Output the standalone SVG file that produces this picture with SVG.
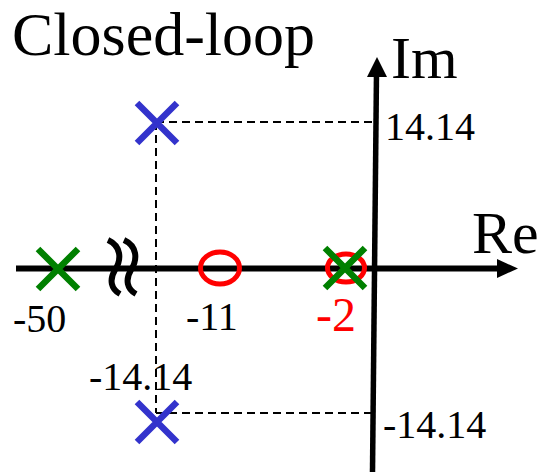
<svg xmlns="http://www.w3.org/2000/svg" width="539" height="476" viewBox="0 0 539 476">
<style>
.ax{stroke:#000;fill:none}
.dash{stroke:#000;stroke-width:2;stroke-dasharray:8 5;fill:none}
.zero{stroke:#ff0000;stroke-width:5;fill:none}
.xg{stroke:#008000;stroke-width:6.5;fill:none}
.xb{stroke:#3333cc;stroke-width:6.5;fill:none}
.sq{stroke:#000;stroke-width:6;fill:none}
</style>
<rect width="539" height="476" fill="#fff"/>
<text x="12" y="55" font-size="62" font-family="Liberation Serif" fill="#000">Closed-loop</text>
<g id="connectors">
<line class="dash" x1="156" y1="122" x2="373" y2="122"/>
<line class="dash" x1="156" y1="413" x2="373" y2="413"/>
<line class="dash" x1="156" y1="122" x2="156" y2="413"/>
</g>
<g id="real-axis">
<line class="ax" x1="16" y1="268.5" x2="500" y2="268.5" stroke-width="6"/>
<polygon points="497,259 518,268.5 497,278" fill="#000"/>
<text x="472" y="253" font-size="60" font-family="Liberation Serif" fill="#000">Re</text>
</g>
<g id="imag-axis">
<line class="ax" x1="372.5" y1="472" x2="376.5" y2="72" stroke-width="5.5"/>
<polygon points="367,77 377,57 387,77" fill="#000"/>
<text x="391" y="78" font-size="60" font-family="Liberation Serif" fill="#000">Im</text>
</g>
<g id="break">
<path class="sq" d="M108 240 C121 246 122 259 115 270 C109 280 111 289 120 294"/>
<path class="sq" d="M124 240 C137 246 138 259 131 270 C125 280 127 289 136 294"/>
</g>
<g id="pole-50">
<path class="xg" d="M38 249 L78 289 M78 249 L38 289"/>
<text x="13" y="332" font-size="40" font-family="Liberation Serif" fill="#000">-50</text>
</g>
<g id="zero-11">
<ellipse class="zero" cx="220" cy="268" rx="19.5" ry="16"/>
<text x="186" y="330" font-size="40" font-family="Liberation Serif" fill="#000">-11</text>
</g>
<g id="zero-pole-2">
<ellipse class="zero" cx="346" cy="268" rx="18.5" ry="14"/>
<path class="xg" d="M325 248 L365 288 M365 248 L325 288"/>
<text x="316" y="331" font-size="48" font-family="Liberation Serif" fill="#ff0000">-2</text>
</g>
<g id="pole-top">
<path class="xb" d="M137 103 L177 143 M177 103 L137 143"/>
<text x="385" y="140" font-size="40" font-family="Liberation Serif" fill="#000">14.14</text>
</g>
<g id="pole-bottom">
<path class="xb" d="M137 402 L177 442 M177 402 L137 442"/>
<text x="89" y="390" font-size="40" font-family="Liberation Serif" fill="#000">-14.14</text>
<text x="383" y="438" font-size="40" font-family="Liberation Serif" fill="#000">-14.14</text>
</g>
</svg>
